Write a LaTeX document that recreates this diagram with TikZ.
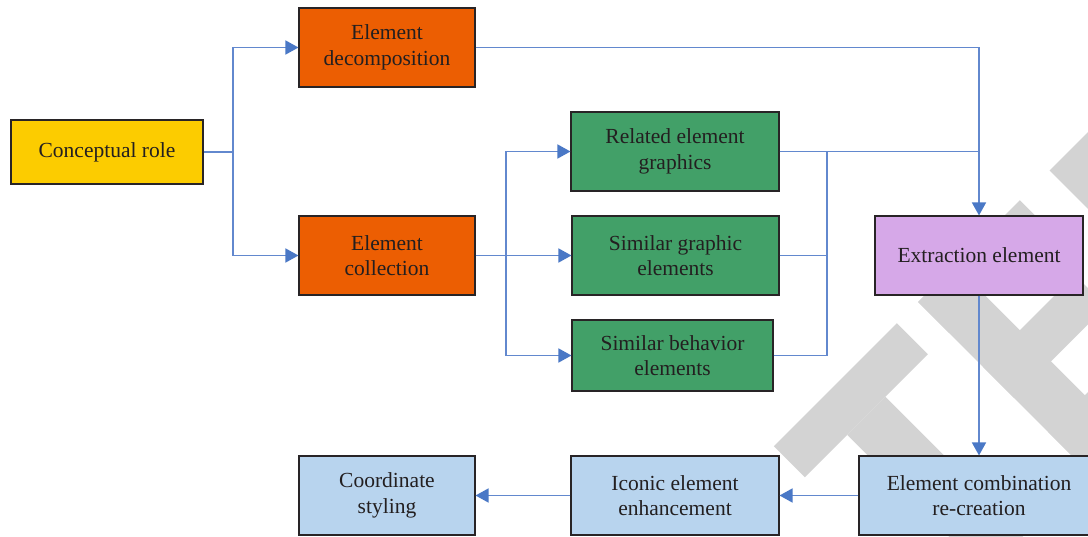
\documentclass[tikz,border=0pt]{standalone}
\usepackage{fontspec}
\setmainfont{Liberation Serif}
\usetikzlibrary{arrows.meta}
\definecolor{cyel}{RGB}{252,204,0}
\definecolor{corg}{RGB}{236,94,2}
\definecolor{cgrn}{RGB}{66,160,104}
\definecolor{cpur}{RGB}{214,168,232}
\definecolor{cblu}{RGB}{184,212,238}
\definecolor{cline}{RGB}{98,136,206}
\definecolor{carr}{RGB}{74,120,198}
\definecolor{cbord}{RGB}{40,36,38}
\definecolor{ctext}{RGB}{35,31,32}
\definecolor{cwm}{RGB}{211,211,211}
\tikzset{
  x=1pt, y=1pt,
  box/.style={draw=cbord, line width=1.1pt, rectangle, align=center, inner sep=0pt,
    text=ctext, font=\fontsize{21.5}{25.5}\selectfont},
  conn/.style={draw=cline, line width=1.6pt},
  arr/.style={conn, -{Triangle[length=13pt,width=14pt,fill=carr,color=carr]}},
}
\begin{document}
\begin{tikzpicture}
\clip (0,0) rectangle (1088,-537);
\fill[white] (0,0) rectangle (1088,-537);
% watermark
\begin{scope}[shift={(918,-302)}, rotate=45, fill=cwm]
  \fill (-204,0) rectangle (-30,-44);
  \fill (-144,-44) rectangle (-90,-240);
  \fill (0,0) rectangle (52,-240);
  \fill (0,0) rectangle (144,-44);
  \fill (0,-92) rectangle (130,-136);
  \fill (0,-184) rectangle (150,-228);
  \fill (186,0) rectangle (262,-70);
\end{scope}
% nodes
\node[box, fill=cyel, minimum width=192, minimum height=64] (cr) at (107,-152) {Conceptual role};
\node[box, fill=corg, minimum width=176, minimum height=79] (ed) at (387,-47.5) {Element\\decomposition};
\node[box, fill=corg, minimum width=176, minimum height=79] (ec) at (387,-255.5) {Element\\collection};
\node[box, fill=cgrn, minimum width=208, minimum height=79] (rg) at (675,-151.5) {Related element\\graphics};
\node[box, fill=cgrn, minimum width=207, minimum height=79] (sg) at (675.5,-255.5) {Similar graphic\\elements};
\node[box, fill=cgrn, minimum width=201, minimum height=71] (sb) at (672.5,-355.5) {Similar behavior\\elements};
\node[box, fill=cpur, minimum width=208, minimum height=79] (ex) at (979,-255.5) {Extraction element};
\node[box, fill=cblu, minimum width=176, minimum height=79] (cs) at (387,-495.5) {Coordinate\\styling};
\node[box, fill=cblu, minimum width=208, minimum height=79] (ie) at (675,-495.5) {Iconic element\\enhancement};
\node[box, fill=cblu, minimum width=240, minimum height=79] (cb) at (979,-495.5) {Element combination\\re-creation};
% connectors
\coordinate (j1) at (233,-152);
\coordinate (j2) at (506,-255.5);
\coordinate (j3) at (827,-151.5);
\draw[conn] (cr.east) -- (j1);
\draw[arr] (j1) |- (ed.west);
\draw[arr] (j1) |- (ec.west);
\draw[arr] (ed.east) -| (ex.north);
\draw[arr] (ec.east) -- (sg.west);
\draw[arr] (j2) |- (rg.west);
\draw[arr] (j2) |- (sb.west);
\draw[conn] (rg.east) -- (ex.north |- rg.east);
\draw[conn] (sg.east) -| (j3);
\draw[conn] (sb.east) -| (j3);
\draw[arr] (ex.south) -- (cb.north);
\draw[arr] (cb.west) -- (ie.east);
\draw[arr] (ie.west) -- (cs.east);
\end{tikzpicture}
\end{document}
